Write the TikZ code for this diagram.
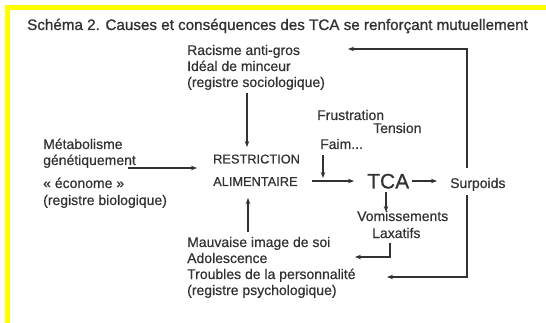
\documentclass[tikz,border=0pt]{standalone}
\usepackage{fontspec}
\setmainfont{Liberation Sans}[FakeBold=0.5]
\newfontfamily\titlefont{Liberation Sans}[FakeBold=0.9]
\newfontfamily\bodyfont{Liberation Sans}[FakeBold=0.5]
\usetikzlibrary{arrows.meta}
\definecolor{ink}{RGB}{50,50,50}
\definecolor{hiyellow}{RGB}{255,255,0}
\begin{document}
\begin{tikzpicture}[x=1pt,y=-1pt,
  txt/.style={anchor=base west, inner sep=0pt, text=ink, font=\bodyfont\fontsize{14}{16}\selectfont},
  capstxt/.style={txt, font=\bodyfont\fontsize{12.8}{15}\selectfont},
  bigtxt/.style={txt, font=\bodyfont\fontsize{21}{24}\selectfont},
  ttl/.style={txt, font=\titlefont\fontsize{15.2}{18}\selectfont},
  arr/.style={draw=ink, line width=1.1pt, -{Stealth[length=6pt,width=4.5pt]}},
  ]
\useasboundingbox (0,0) rectangle (546,323);
\fill[white] (0,0) rectangle (546,323);
\fill[hiyellow] (5,5) rectangle (546,10);
\fill[hiyellow] (5,5) rectangle (10,323);

% title
\node[ttl] (title) at (27,30) {Schéma 2. Causes et conséquences des TCA se renforçant mutuellement};

% sociological register
\node[txt] (soc1) at (187,55) {Racisme anti-gros};
\node[txt] (soc2) at (187,71) {Idéal de minceur};
\node[txt] (soc3) at (187,87) {(registre sociologique)};

% biological register
\node[txt] (bio1) at (43,149) {Métabolisme};
\node[txt] (bio2) at (43,165) {génétiquement};
\node[txt] (bio3) at (43,188) {« économe »};
\node[txt] (bio4) at (43,205) {(registre biologique)};

% restriction
\node[capstxt] (restr1) at (213,163.5) {RESTRICTION};
\node[capstxt] (restr2) at (213,186) {ALIMENTAIRE};

% frustration etc.
\node[txt] (frus) at (317,120) {Frustration};
\node[txt] (tens) at (373,133) {Tension};
\node[txt] (faim) at (320,149) {Faim...};

% TCA
\node[bigtxt] (tca) at (367,188.5) {TCA};
\node[txt] (surp) at (450,188) {Surpoids};

% vomissements
\node[txt] (vom) at (357,221) {Vomissements};
\node[txt] (lax) at (372,238) {Laxatifs};

% psychological register
\node[txt] (psy1) at (187,247) {Mauvaise image de soi};
\node[txt] (psy2) at (187,263) {Adolescence};
\node[txt] (psy3) at (187,279) {Troubles de la personnalité};
\node[txt] (psy4) at (187,295) {(registre psychologique)};

% connector end points
\coordinate (socOut) at (247,93);
\coordinate (restrTop) at (247,147);
\coordinate (bioOut) at (128,168);
\coordinate (restrLeft) at (197,168);
\coordinate (psyOut) at (248,232);
\coordinate (restrBot) at (248,198);
\coordinate (faimOut) at (323,155);
\coordinate (faimIn) at (323,178);
\coordinate (restrOut) at (312,181);
\coordinate (tcaIn) at (354,181);
\coordinate (tcaOut) at (412,181);
\coordinate (surpIn) at (437,181);
\coordinate (tcaDown) at (386,192);
\coordinate (vomIn) at (386,212);
\coordinate (surpTop) at (467,168);
\coordinate (socIn) at (348,49);
\coordinate (surpBot) at (467,195);
\coordinate (psyIn) at (387,277);
\coordinate (laxOut) at (390,243);
\coordinate (psyIn2) at (355,257);

\draw[arr] (socOut) -- (restrTop);
\draw[arr] (bioOut) -- (restrLeft);
\draw[arr] (psyOut) -- (restrBot);
\draw[arr] (faimOut) -- (faimIn);
\draw[arr] (restrOut) -- (tcaIn);
\draw[arr] (tcaOut) -- (surpIn);
\draw[arr] (tcaDown) -- (vomIn);
\draw[arr] (surpTop) |- (socIn);
\draw[arr] (surpBot) |- (psyIn);
\draw[arr] (laxOut) |- (psyIn2);
\end{tikzpicture}
\end{document}
